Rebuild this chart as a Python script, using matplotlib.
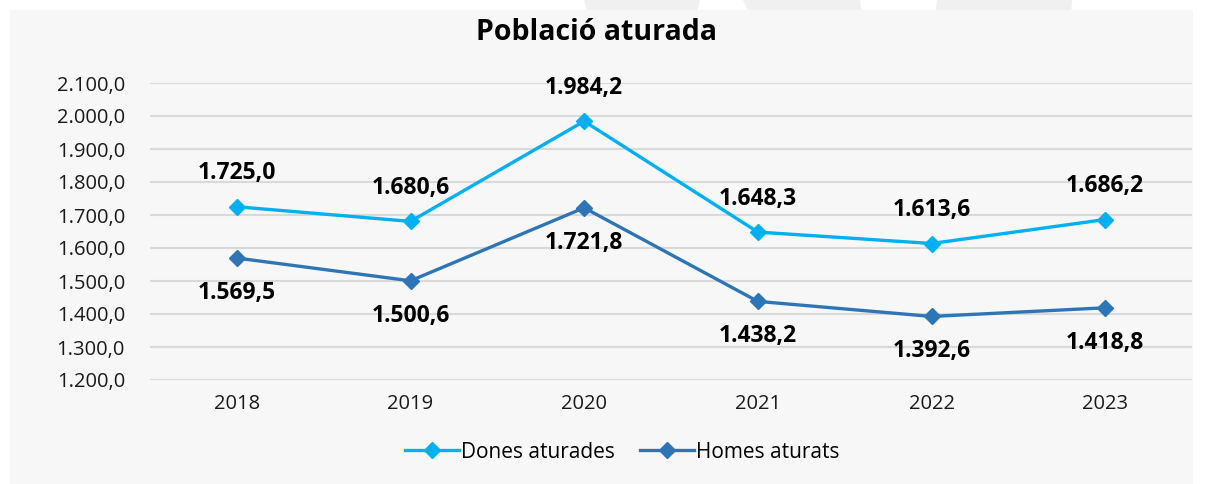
import matplotlib
import matplotlib.pyplot as plt
from matplotlib.patches import Rectangle, Polygon

matplotlib.rcParams['font.family'] = ['Open Sans', 'DejaVu Sans']

anys = ['2018', '2019', '2020', '2021', '2022', '2023']
dones = [1725.0, 1680.6, 1984.2, 1648.3, 1613.6, 1686.2]
homes = [1569.5, 1500.6, 1721.8, 1438.2, 1392.6, 1418.8]
yticks = [1200, 1300, 1400, 1500, 1600, 1700, 1800, 1900, 2000, 2100]

c_dones = '#00b0f0'
c_homes = '#2e75b6'


def fmt(v):
    # format catala: punt de milers, coma decimal
    s = f'{v:,.1f}'
    return s.replace(',', 'X').replace('.', ',').replace('X', '.')


W, H = 1205, 484
fig = plt.figure(figsize=(W / 100, H / 100), dpi=100, facecolor='white')

# marca d'aigua a dalt i panell gris
for xs in [(584, 700, 696, 588), (743, 860, 862, 750), (937, 1072, 1071, 935)]:
    fig.patches.append(Polygon([(xs[0] / W, 1), (xs[1] / W, 1), (xs[2] / W, 0.97), (xs[3] / W, 0.97)],
                               transform=fig.transFigure, facecolor='#f0f0f0', edgecolor='none', zorder=-3))
fig.patches.append(Rectangle((10 / W, 0), 1183 / W, (H - 10) / H, transform=fig.transFigure,
                             facecolor='#f7f7f7', edgecolor='none', zorder=-2))

ax = fig.add_axes([150 / W, 1 - 380 / H, (1192 - 150) / W, (380 - 83) / H])
ax.set_facecolor('none')

x = range(len(anys))
ax.plot(x, dones, color=c_dones, lw=2.4, marker='D', ms=8, label='Dones aturades', zorder=3)
ax.plot(x, homes, color=c_homes, lw=2.4, marker='D', ms=8, label='Homes aturats', zorder=3)

for i in x:
    ax.annotate(fmt(dones[i]), (i, dones[i]), xytext=(0, 24), textcoords='offset points',
                ha='center', va='center', fontsize=16.5, fontweight='bold')
    ax.annotate(fmt(homes[i]), (i, homes[i]), xytext=(0, -25), textcoords='offset points',
                ha='center', va='center', fontsize=16.5, fontweight='bold')

ax.set_xlim(-0.5, 5.5)
ax.set_ylim(1200, 2100)
ax.set_yticks(yticks)
ax.set_yticklabels([fmt(v) for v in yticks])
ax.set_xticks(list(x))
ax.set_xticklabels(anys)
ax.tick_params(length=0, labelsize=14.5, colors='#1a1a1a')
ax.tick_params(axis='y', pad=18)
ax.tick_params(axis='x', pad=10)
ax.grid(axis='y', color='#d9d9d9', lw=1.5)
ax.set_axisbelow(True)
for s in ax.spines.values():
    s.set_visible(False)

fig.text(597 / W, 1 - 33 / H, 'Població aturada', ha='center', va='center',
         fontsize=20.5, fontweight='bold')

fig.legend(loc='center', bbox_to_anchor=(622 / W, 1 - 452 / H), ncol=2, frameon=False,
           fontsize=15, handlelength=2.6, handletextpad=0.1, columnspacing=1.2)

fig.savefig('out.png', dpi=100, facecolor='white')
